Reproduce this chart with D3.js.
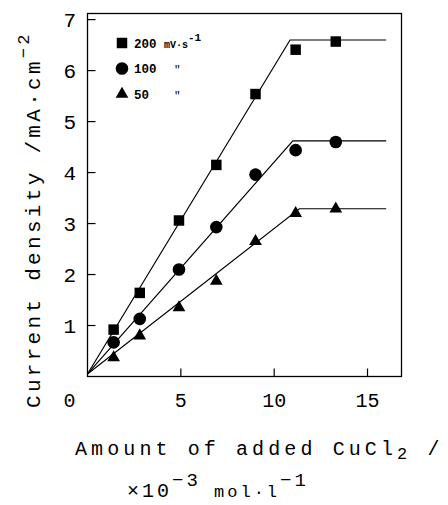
<!DOCTYPE html>
<html lang="en">
<head>
    <meta charset="UTF-8">
    <script src="https://d3js.org/d3.v7.min.js"></script>
    <title>Current density vs CuCl2</title>
    <style>
        body { margin: 0; background: #fff; }
        text { font-family: "Liberation Mono", "DejaVu Sans Mono", monospace; fill: #000; }
    </style>
</head>
<body>
    <div id="chart"></div>
    <script>
        // Data
        const added = [1.4, 2.8, 4.9, 6.9, 9.0, 11.15, 13.3];
        const j200 = [0.92, 1.64, 3.06, 4.15, 5.54, 6.41, 6.57];
        const j100 = [0.67, 1.13, 2.10, 2.93, 3.96, 4.44, 4.60];
        const j50 = [0.37, 0.80, 1.35, 1.87, 2.65, 3.20, 3.29];

        // Fitted lines (start, break point, end of plateau)
        const fit200 = [[0, 0.05], [10.85, 6.6], [16, 6.6]];
        const fit100 = [[0, 0.05], [11.0, 4.62], [16, 4.62]];
        const fit50 = [[0, 0.05], [11.35, 3.29], [16, 3.29]];

        const xTicks = [5, 10, 15];
        const yTicks = [1, 2, 3, 4, 5, 6, 7];
        const legendLabels = ["200", "100", "50"];

        const width = 448;
        const height = 505;
        const plot = { left: 87.5, right: 401.5, top: 13.5, bottom: 376.5 };

        const svg = d3.select("#chart")
            .append("svg")
            .attr("width", width)
            .attr("height", height);

        const x = d3.scaleLinear().domain([0, 16.82]).range([plot.left, plot.right]);
        const y = d3.scaleLinear().domain([0, 7.12]).range([plot.bottom, plot.top]);

        // Frame
        svg.append("rect")
            .attr("x", plot.left)
            .attr("y", plot.top)
            .attr("width", plot.right - plot.left)
            .attr("height", plot.bottom - plot.top)
            .attr("fill", "none")
            .attr("stroke", "#000")
            .attr("stroke-width", 1.3);

        // Y ticks (inward)
        svg.selectAll("line.ytick")
            .data(yTicks)
            .join("line")
            .attr("class", "ytick")
            .attr("x1", plot.left)
            .attr("x2", plot.left + 8)
            .attr("y1", d => y(d))
            .attr("y2", d => y(d))
            .attr("stroke", "#000")
            .attr("stroke-width", 1.2);

        svg.selectAll("text.ylab")
            .data(yTicks)
            .join("text")
            .attr("class", "ylab")
            .attr("x", 76)
            .attr("y", d => y(d) + 7.5)
            .attr("text-anchor", "end")
            .attr("font-size", 21)
            .text(d => d);

        // X ticks (inward)
        svg.selectAll("line.xtick")
            .data(xTicks)
            .join("line")
            .attr("class", "xtick")
            .attr("x1", d => x(d))
            .attr("x2", d => x(d))
            .attr("y1", plot.bottom)
            .attr("y2", plot.bottom - 8)
            .attr("stroke", "#000")
            .attr("stroke-width", 1.2);

        svg.selectAll("text.xlab")
            .data([0].concat(xTicks))
            .join("text")
            .attr("class", "xlab")
            .attr("x", d => d === 0 ? x(0) - 18 : x(d))
            .attr("y", 407)
            .attr("text-anchor", "middle")
            .attr("font-size", 20)
            .text(d => d);

        // Lines
        const line = d3.line().x(d => x(d[0])).y(d => y(d[1]));
        [fit200, fit100, fit50].forEach(f => {
            svg.append("path")
                .attr("d", line(f))
                .attr("fill", "none")
                .attr("stroke", "#000")
                .attr("stroke-width", 1.2);
        });

        // Markers
        const series = [
            { values: j200, symbol: d3.symbolSquare, size: 110 },
            { values: j100, symbol: d3.symbolCircle, size: 125 },
            { values: j50, symbol: d3.symbolTriangle, size: 70 }
        ];

        series.forEach(s => {
            svg.append("g")
                .selectAll("path")
                .data(s.values)
                .join("path")
                .attr("transform", (d, i) => `translate(${x(added[i])},${y(d)})`)
                .attr("d", d3.symbol().type(s.symbol).size(s.size))
                .attr("fill", "#000");
        });

        // Legend
        const legend = svg.append("g");
        legendLabels.forEach((label, i) => {
            const ly = 43 + i * 25.5;
            legend.append("path")
                .attr("transform", `translate(122,${ly})`)
                .attr("d", d3.symbol().type(series[i].symbol).size(series[i].size))
                .attr("fill", "#000");
            legend.append("text")
                .attr("x", 134)
                .attr("y", ly + 4.5)
                .attr("font-size", 12.5)
                .attr("font-weight", "bold")
                .text(label);
            if (i === 0) {
                const t = legend.append("text")
                    .attr("x", 164)
                    .attr("y", ly + 4.5)
                    .attr("font-size", 10)
                    .attr("font-weight", "bold");
                t.append("tspan").text("mV·s");
                t.append("tspan").attr("font-size", 11).attr("dy", -7).text("-1");
            } else {
                legend.append("text")
                    .attr("x", 174)
                    .attr("y", ly + 4.5)
                    .attr("font-size", 11)
                    .text("\"");
            }
        });

        // Y axis title
        const yTitle = svg.append("text")
            .attr("transform", "translate(40,408) rotate(-90)")
            .attr("font-size", 21)
            .attr("letter-spacing", 3.3);
        yTitle.append("tspan").text("Current density /mA·cm");
        yTitle.append("tspan").attr("font-size", 17).attr("dy", -11).text("−2");

        // X axis title
        const xTitle1 = svg.append("text")
            .attr("x", 75)
            .attr("y", 455)
            .attr("font-size", 20)
            .attr("letter-spacing", 4.1);
        xTitle1.append("tspan").text("Amount of added CuCl");
        xTitle1.append("tspan").attr("font-size", 17).attr("dy", 4).text("2");
        xTitle1.append("tspan").attr("dy", -4).text(" /");

        const xTitle2 = svg.append("text")
            .attr("x", 127)
            .attr("y", 497)
            .attr("font-size", 20)
            .attr("letter-spacing", 3);
        xTitle2.append("tspan").text("×10");
        xTitle2.append("tspan").attr("font-size", 19).attr("dy", -11).text("−3");
        xTitle2.append("tspan").attr("font-size", 17).attr("dy", 11).text(" mol·l");
        xTitle2.append("tspan").attr("font-size", 19).attr("dy", -11).text("−1");
    </script>
</body>
</html>
